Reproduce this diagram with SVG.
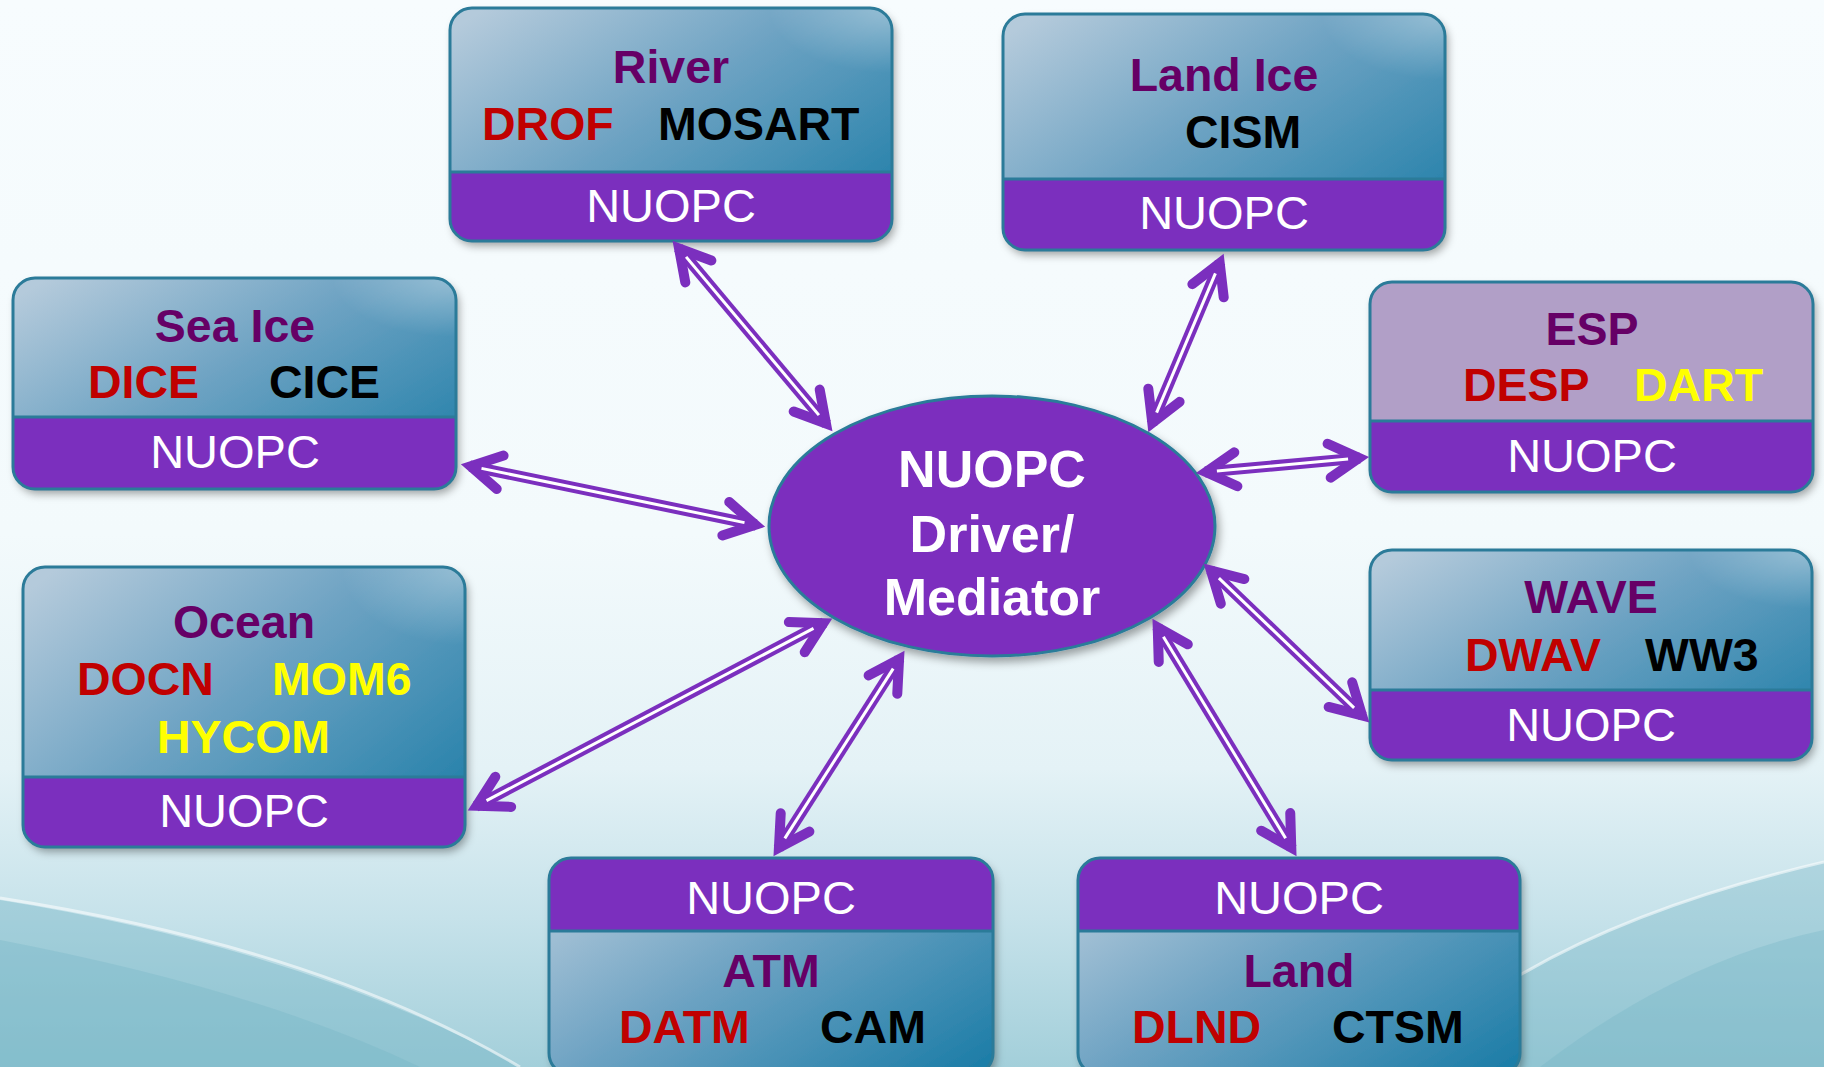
<svg xmlns="http://www.w3.org/2000/svg" width="1824" height="1067" viewBox="0 0 1824 1067">
<defs>
<linearGradient id="bg" x1="0" y1="0" x2="0" y2="1">
<stop offset="0" stop-color="#f7fcfe"/>
<stop offset="0.5" stop-color="#f3fafc"/>
<stop offset="0.72" stop-color="#e4f2f6"/>
<stop offset="0.86" stop-color="#c6e2ea"/>
<stop offset="1" stop-color="#a3cfda"/>
</linearGradient>
<linearGradient id="boxg" x1="0" y1="0.1" x2="1" y2="0.9">
<stop offset="0" stop-color="#b4cadb"/>
<stop offset="0.45" stop-color="#6ea3c3"/>
<stop offset="1" stop-color="#1f7ea8"/>
</linearGradient>
<radialGradient id="gloss" cx="1" cy="0" r="0.28">
<stop offset="0" stop-color="#ffffff" stop-opacity="0.35"/>
<stop offset="1" stop-color="#ffffff" stop-opacity="0"/>
</radialGradient>
<filter id="sh" x="-10%" y="-10%" width="125%" height="130%">
<feDropShadow dx="3" dy="5" stdDeviation="4" flood-color="#000" flood-opacity="0.35"/>
</filter>
<marker id="chev" markerUnits="userSpaceOnUse" markerWidth="60" markerHeight="60" refX="-10" refY="0" orient="auto-start-reverse" overflow="visible">
<path d="M-41,-17 L-11,0 L-41,17" fill="none" stroke="#7b2fbe" stroke-width="10" stroke-linecap="round" stroke-linejoin="miter" stroke-miterlimit="6"/>
</marker>
<style>
.base{fill:url(#boxg);filter:url(#sh)}
.esp{fill:#b19fc7;filter:url(#sh)}
.gl{fill:url(#gloss)}
.band{fill:#7b2fbe}
.sep{stroke:#2b7b99;stroke-width:3}
.brd{fill:none;stroke:#2b7b99;stroke-width:3}
text{font-family:"Liberation Sans",Arial,sans-serif;font-size:46.5px}
.t{font-weight:bold;fill:#660066;text-anchor:middle}
.r{font-weight:bold;fill:#c00000}
.k{font-weight:bold;fill:#000}
.y{font-weight:bold;fill:#ffff00}
.n{fill:#fff;text-anchor:middle;font-size:47px}
.shaft{stroke:#7b2fbe;stroke-width:11;marker-start:url(#chev);marker-end:url(#chev)}
.gap{stroke:#fff;stroke-width:3}
.c{fill:#fff;font-weight:bold;font-size:52px;text-anchor:middle}
</style>
</defs>
<rect width="1824" height="1067" fill="url(#bg)"/>
<path d="M0,900 Q310,950 520,1067 L0,1067 Z" fill="#6fb2c4" opacity="0.4"/>
<path d="M0,940 Q260,990 420,1067 L0,1067 Z" fill="#6fb2c4" opacity="0.3"/>
<path d="M0,898 Q320,948 520,1067" fill="none" stroke="#fff" stroke-opacity="0.55" stroke-width="3"/>
<path d="M1824,862 Q1640,905 1520,975 L1520,1067 L1824,1067 Z" fill="#6fb2c4" opacity="0.35"/>
<path d="M1824,862 Q1640,905 1520,975" fill="none" stroke="#fff" stroke-opacity="0.55" stroke-width="3"/>
<path d="M1824,930 Q1680,960 1540,1067 L1824,1067 Z" fill="#6fb2c4" opacity="0.3"/>

<g id="river">
<rect class="base" x="450" y="8" width="442" height="233" rx="22"/>
<rect class="gl" x="450" y="8" width="442" height="233" rx="22"/>
<path class="band" d="M450,172 H892 V219 A22,22 0 0 1 870,241 H472 A22,22 0 0 1 450,219 Z"/>
<line class="sep" x1="450" y1="172" x2="892" y2="172"/>
<rect class="brd" x="450" y="8" width="442" height="233" rx="22"/>
<text class="t" x="671" y="83">River</text>
<text class="r" x="482" y="140">DROF</text>
<text class="k" x="658" y="140">MOSART</text>
<text class="n" x="671" y="222">NUOPC</text>
</g>

<g id="landice">
<rect class="base" x="1003" y="14" width="442" height="236" rx="22"/>
<rect class="gl" x="1003" y="14" width="442" height="236" rx="22"/>
<path class="band" d="M1003,179 H1445 V228 A22,22 0 0 1 1423,250 H1025 A22,22 0 0 1 1003,228 Z"/>
<line class="sep" x1="1003" y1="179" x2="1445" y2="179"/>
<rect class="brd" x="1003" y="14" width="442" height="236" rx="22"/>
<text class="t" x="1224" y="91">Land Ice</text>
<text class="k" x="1185" y="148">CISM</text>
<text class="n" x="1224" y="229">NUOPC</text>
</g>

<g id="seaice">
<rect class="base" x="13" y="278" width="443" height="211" rx="22"/>
<rect class="gl" x="13" y="278" width="443" height="211" rx="22"/>
<path class="band" d="M13,417 H456 V467 A22,22 0 0 1 434,489 H35 A22,22 0 0 1 13,467 Z"/>
<line class="sep" x1="13" y1="417" x2="456" y2="417"/>
<rect class="brd" x="13" y="278" width="443" height="211" rx="22"/>
<text class="t" x="235" y="342">Sea Ice</text>
<text class="r" x="88" y="398">DICE</text>
<text class="k" x="269" y="398">CICE</text>
<text class="n" x="235" y="468">NUOPC</text>
</g>

<g id="esp">
<rect class="esp" x="1370" y="282" width="443" height="210" rx="22"/>
<path class="band" d="M1370,421 H1813 V470 A22,22 0 0 1 1791,492 H1392 A22,22 0 0 1 1370,470 Z"/>
<line class="sep" x1="1370" y1="421" x2="1813" y2="421"/>
<rect class="brd" x="1370" y="282" width="443" height="210" rx="22"/>
<text class="t" x="1592" y="345">ESP</text>
<text class="r" x="1463" y="401">DESP</text>
<text class="y" x="1634" y="401">DART</text>
<text class="n" x="1592" y="472">NUOPC</text>
</g>

<g id="wave">
<rect class="base" x="1370" y="550" width="442" height="210" rx="22"/>
<rect class="gl" x="1370" y="550" width="442" height="210" rx="22"/>
<path class="band" d="M1370,690 H1812 V738 A22,22 0 0 1 1790,760 H1392 A22,22 0 0 1 1370,738 Z"/>
<line class="sep" x1="1370" y1="690" x2="1812" y2="690"/>
<rect class="brd" x="1370" y="550" width="442" height="210" rx="22"/>
<text class="t" x="1591" y="613">WAVE</text>
<text class="r" x="1465" y="671">DWAV</text>
<text class="k" x="1645" y="671">WW3</text>
<text class="n" x="1591" y="741">NUOPC</text>
</g>

<g id="ocean">
<rect class="base" x="23" y="567" width="442" height="280" rx="22"/>
<rect class="gl" x="23" y="567" width="442" height="280" rx="22"/>
<path class="band" d="M23,777 H465 V825 A22,22 0 0 1 443,847 H45 A22,22 0 0 1 23,825 Z"/>
<line class="sep" x1="23" y1="777" x2="465" y2="777"/>
<rect class="brd" x="23" y="567" width="442" height="280" rx="22"/>
<text class="t" x="244" y="638">Ocean</text>
<text class="r" x="77" y="695">DOCN</text>
<text class="y" x="272" y="695">MOM6</text>
<text class="y" x="157" y="753">HYCOM</text>
<text class="n" x="244" y="827">NUOPC</text>
</g>

<g id="atm">
<rect class="base" x="549" y="858" width="444" height="217" rx="22"/>
<rect class="gl" x="549" y="858" width="444" height="217" rx="22"/>
<path class="band" d="M549,931 V880 A22,22 0 0 1 571,858 H971 A22,22 0 0 1 993,880 V931 Z"/>
<line class="sep" x1="549" y1="931" x2="993" y2="931"/>
<rect class="brd" x="549" y="858" width="444" height="217" rx="22"/>
<text class="n" x="771" y="914">NUOPC</text>
<text class="t" x="771" y="987">ATM</text>
<text class="r" x="619" y="1043">DATM</text>
<text class="k" x="820" y="1043">CAM</text>
</g>

<g id="land">
<rect class="base" x="1078" y="858" width="442" height="217" rx="22"/>
<rect class="gl" x="1078" y="858" width="442" height="217" rx="22"/>
<path class="band" d="M1078,931 V880 A22,22 0 0 1 1100,858 H1498 A22,22 0 0 1 1520,880 V931 Z"/>
<line class="sep" x1="1078" y1="931" x2="1520" y2="931"/>
<rect class="brd" x="1078" y="858" width="442" height="217" rx="22"/>
<text class="n" x="1299" y="914">NUOPC</text>
<text class="t" x="1299" y="987">Land</text>
<text class="r" x="1132" y="1043">DLND</text>
<text class="k" x="1332" y="1043">CTSM</text>
</g>

<g id="mediator">
<ellipse cx="992" cy="526" rx="223" ry="130" fill="#7b2fbe" stroke="#2b7b99" stroke-width="3" filter="url(#sh)"/>
<text class="c" x="992" y="487">NUOPC</text>
<text class="c" x="992" y="552">Driver/</text>
<text class="c" x="992" y="615">Mediator</text>
</g>

<g id="connectors">
<line class="shaft" x1="678.4" y1="247.7" x2="826.6" y2="424.3"/>
<line class="gap" x1="686.1" y1="256.9" x2="818.9" y2="415.1"/>
<line class="shaft" x1="1220.1" y1="262.2" x2="1151.9" y2="423.8"/>
<line class="gap" x1="1215.4" y1="273.3" x2="1156.6" y2="412.7"/>
<line class="shaft" x1="469.8" y1="466" x2="756.2" y2="525"/>
<line class="gap" x1="481.5" y1="468.4" x2="744.5" y2="522.6"/>
<line class="shaft" x1="1360" y1="457.9" x2="1205" y2="472.1"/>
<line class="gap" x1="1348.1" y1="459" x2="1216.9" y2="471"/>
<line class="shaft" x1="1362.8" y1="716.1" x2="1210.2" y2="569.9"/>
<line class="gap" x1="1354.1" y1="707.8" x2="1218.9" y2="578.2"/>
<line class="shaft" x1="475.8" y1="806.3" x2="824.2" y2="622.7"/>
<line class="gap" x1="486.5" y1="800.7" x2="813.5" y2="628.3"/>
<line class="shaft" x1="778.4" y1="848.6" x2="899.6" y2="658.4"/>
<line class="gap" x1="784.8" y1="838.4" x2="893.2" y2="668.6"/>
<line class="shaft" x1="1291.8" y1="848.4" x2="1157.2" y2="626.6"/>
<line class="gap" x1="1285.6" y1="838.2" x2="1163.4" y2="636.8"/>
</g>
</svg>
